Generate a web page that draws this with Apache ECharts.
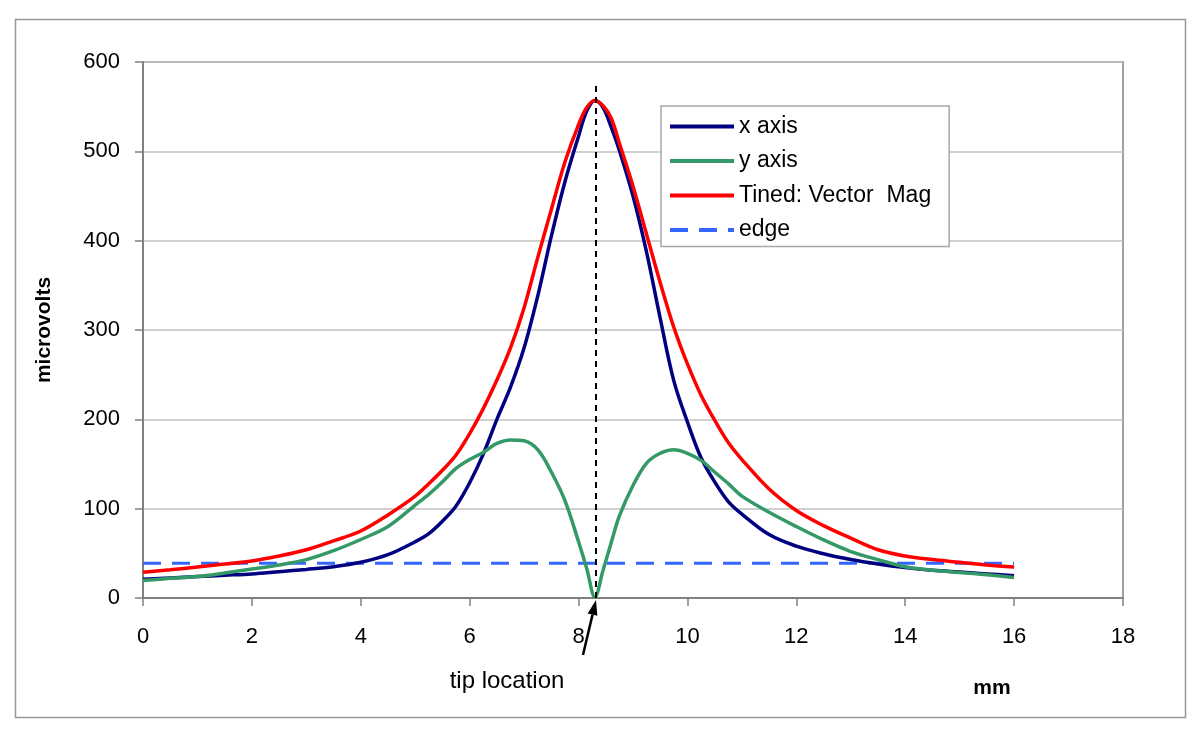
<!DOCTYPE html>
<html>
<head>
<meta charset="utf-8">
<script src="https://cdn.jsdelivr.net/npm/echarts@6/dist/echarts.min.js"></script>
<style>html,body{margin:0;padding:0;background:#fff}#c{width:1200px;height:735px}</style>
</head>
<body>
<div id="c"></div>
<script>
// positions along the sensor (mm)
const xs = [0,0.5,1,1.5,2,2.5,3,3.5,4,4.5,
  5,5.25,5.5,5.75,6,6.25,6.5,6.75,7,7.25,7.5,7.75,
  8,8.15,8.3,8.45,8.6,8.75,
  9,9.25,9.5,9.75,10,10.25,10.5,10.75,11,
  11.5,12,12.5,13,13.5,14,14.5,15,15.5,16];
// microvolts
const xAxisVals = [21,22.5,24,25.5,27,29.5,32,35,40,48.5,
  63,72,86,103,129,161,200,236,280,338,405,466,
  517,545,557,549,527,501,
  450,387,313,243,197,157,130,108,94,
  71,58,49.5,43,38,34,31,29,27,25];
const yAxisVals = [19.7,22,24,28,32.5,37,43,53,65.5,80,
  104,116,130,145,155,163,173,177,176,166,141,109,
  63,33,1,31,62,92,
  126,151,162,166,162,154,141,128,114,
  96,80,65,52,43,35,31,28.5,26,23];
const vectorMagVals = [28.7,31.5,34.7,38,41.5,47,54,64,75,93,
  114,128,143,160,184,212,244,280,325,381,435,488,
  530,549,557,551,537,509,
  461,407,353,303,262,227,199,174,155,
  122,98,81,67,54,47,43,40,37,34.7];
const edgeX = [0,16];
const edgeVals = [39,39];
const tipX = 8.32;
const tipLineTop = 575;
const seriesNames = ['x axis','y axis','Tined: Vector  Mag','edge'];

const pairs = (a,b)=>a.map((x,i)=>[x,b[i]]);
const FONT = '"Liberation Sans", Arial, sans-serif';

const chart = echarts.init(document.getElementById('c'));
chart.setOption({
  animation:false,
  backgroundColor:'#fff',
  grid:{left:143,right:77,top:62,bottom:137,show:true,borderColor:'#a0a0a0',borderWidth:2,backgroundColor:'transparent'},
  legend:{
    orient:'vertical',left:661,top:106,
    data:seriesNames,
    itemWidth:64,itemHeight:14,itemGap:11.5,
    padding:[9,18,5,7],
    backgroundColor:'#fff',borderColor:'#a8a8a8',borderWidth:1.5,
    itemStyle:{opacity:0},
    lineStyle:{width:4},
    textStyle:{fontFamily:FONT,fontSize:23,color:'#000'}
  },
  xAxis:{
    type:'value',min:0,max:18,interval:2,
    axisLine:{lineStyle:{color:'#808080',width:2}},
    axisTick:{show:true,length:8,lineStyle:{color:'#808080',width:1.5}},
    splitLine:{show:false},
    axisLabel:{fontFamily:FONT,fontSize:22,color:'#000',margin:28}
  },
  yAxis:{
    type:'value',min:0,max:600,interval:100,
    name:'microvolts',nameLocation:'middle',nameGap:88,
    nameTextStyle:{fontFamily:FONT,fontSize:21,fontWeight:'bold',color:'#000'},
    axisLine:{show:true,lineStyle:{color:'#808080',width:2}},
    axisTick:{show:true,length:8,lineStyle:{color:'#808080',width:1.5}},
    splitLine:{lineStyle:{color:'#c0c0c0',width:1.5}},
    axisLabel:{fontFamily:FONT,fontSize:22,color:'#000',margin:23}
  },
  series:[
    {name:seriesNames[0],type:'line',symbol:'none',smooth:0.35,data:pairs(xs,xAxisVals),
      lineStyle:{color:'#000080',width:3.5},itemStyle:{color:'#000080'},z:3},
    {name:seriesNames[1],type:'line',symbol:'none',smooth:0.35,data:pairs(xs,yAxisVals),
      lineStyle:{color:'#339966',width:3.5},itemStyle:{color:'#339966'},z:3},
    {name:seriesNames[2],type:'line',symbol:'none',smooth:0.35,data:pairs(xs,vectorMagVals),
      lineStyle:{color:'#ff0000',width:3.5},itemStyle:{color:'#ff0000'},z:4},
    {name:seriesNames[3],type:'line',symbol:'none',data:pairs(edgeX,edgeVals),
      lineStyle:{color:'#3366ff',width:3,type:[18,11]},itemStyle:{color:'#3366ff'},z:2,
      markLine:{silent:true,symbol:'none',label:{show:false},
        lineStyle:{color:'#000',width:2,type:[6,5]},
        data:[[{coord:[tipX,0]},{coord:[tipX,tipLineTop]}]]}}
  ]
});

const tip = chart.convertToPixel({xAxisIndex:0,yAxisIndex:0},[tipX,0]);
const tx = tip[0], ty = tip[1] + 2;
const sx = tx - 13, sy = ty + 55;
const dx = tx - sx, dy = ty - sy, L = Math.hypot(dx,dy);
const ux = dx/L, uy = dy/L, hl = 15, hw = 5;
const bx = tx - ux*hl, by = ty - uy*hl;
chart.setOption({
  graphic:[
    {type:'rect',shape:{x:15.5,y:19.5,width:1170,height:698},style:{fill:'none',stroke:'#999',lineWidth:1.5},silent:true,z:-10},
    {type:'line',shape:{x1:sx,y1:sy,x2:bx,y2:by},style:{stroke:'#000',lineWidth:2.5},z:100},
    {type:'polygon',shape:{points:[[tx,ty],[bx - uy*hw, by + ux*hw],[bx + uy*hw, by - ux*hw]]},style:{fill:'#000'},z:100},
    {type:'text',x:507,y:681,style:{text:'tip location',font:'24px "Liberation Sans", Arial, sans-serif',fill:'#000',textAlign:'center',textVerticalAlign:'middle'},z:100},
    {type:'text',x:992,y:688,style:{text:'mm',font:'bold 21px "Liberation Sans", Arial, sans-serif',fill:'#000',textAlign:'center',textVerticalAlign:'middle'},z:100}
  ]
});
</script>
</body>
</html>
